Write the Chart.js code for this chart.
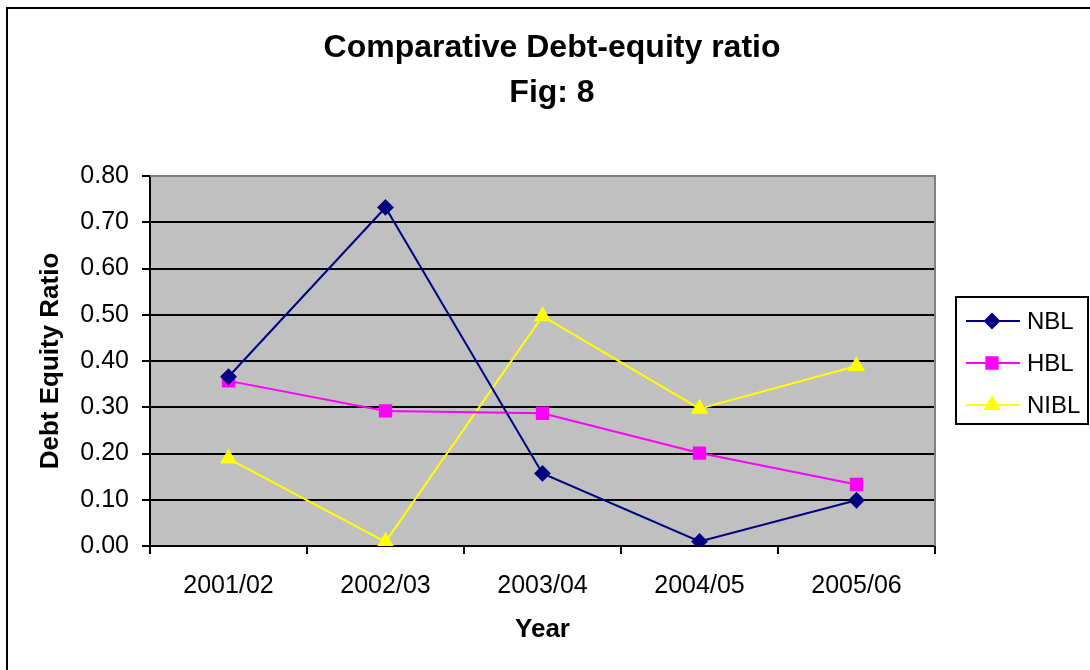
<!DOCTYPE html>
<html>
<head>
<meta charset="utf-8">
<script src="https://cdn.jsdelivr.net/npm/chart.js@4.4.1/dist/chart.umd.min.js"></script>
<style>
  html, body { margin: 0; padding: 0; background: #fff; }
  #wrap { width: 1090px; height: 670px; }
</style>
</head>
<body>
<div id="wrap"><canvas id="grafRatio" width="1090" height="670"></canvas></div>
<script>
// Datos
let anios = ["2001/02", "2002/03", "2003/04", "2004/05", "2005/06"];
let nbl = [0.366, 0.732, 0.157, 0.010, 0.099];
let hbl = [0.357, 0.292, 0.287, 0.201, 0.133];
let nibl = [0.189, 0.009, 0.497, 0.297, 0.389];
let titulos = ['Comparative Debt-equity ratio', 'Fig: 8'];

let fuente = "'Liberation Sans', Arial, sans-serif";

// Fondo gris, marco exterior y borde superior/derecho del area
let fondo = {
  id: 'fondo',
  beforeDraw(chart) {
    let ctx = chart.ctx;
    let a = chart.chartArea;
    ctx.save();
    ctx.strokeStyle = '#000';
    ctx.lineWidth = 2;
    ctx.strokeRect(7, 8, 2000, 2000);
    ctx.fillStyle = '#c0c0c0';
    ctx.fillRect(a.left, a.top, a.right - a.left, a.bottom - a.top);
    ctx.restore();
  },
  beforeDatasetsDraw(chart) {
    let ctx = chart.ctx;
    let a = chart.chartArea;
    ctx.save();
    ctx.strokeStyle = '#808080';
    ctx.lineWidth = 2;
    ctx.beginPath();
    ctx.moveTo(a.left, a.top);
    ctx.lineTo(a.right, a.top);
    ctx.lineTo(a.right, a.bottom);
    ctx.stroke();
    ctx.restore();
  }
};

// Titulo centrado sobre toda la pagina
let titulo = {
  id: 'titulo',
  afterDraw(chart) {
    let ctx = chart.ctx;
    ctx.save();
    ctx.fillStyle = '#000';
    ctx.font = "bold 32px " + fuente;
    ctx.textAlign = 'center';
    ctx.textBaseline = 'middle';
    titulos.forEach(function(t, i) {
      ctx.fillText(t, 552, 48 + i * 45);
    });
    ctx.restore();
  }
};

// Leyenda propia con linea y marcador
let leyenda = {
  id: 'leyenda',
  afterDraw(chart) {
    let ctx = chart.ctx;
    ctx.save();
    ctx.strokeStyle = '#000';
    ctx.lineWidth = 2;
    ctx.strokeRect(956, 297, 132, 127);
    chart.data.datasets.forEach(function(ds, i) {
      let y = 321 + i * 42;
      ctx.strokeStyle = ds.borderColor;
      ctx.lineWidth = 2;
      ctx.beginPath();
      ctx.moveTo(966, y);
      ctx.lineTo(1020, y);
      ctx.stroke();
      Chart.helpers.drawPoint(ctx, {
        pointStyle: ds.pointStyle,
        radius: ds.pointRadius,
        borderWidth: 1
      }, 992, y);
      ctx.fillStyle = ds.borderColor;
      ctx.fill();
      ctx.fillStyle = '#000';
      ctx.font = "24px " + fuente;
      ctx.textBaseline = 'middle';
      ctx.textAlign = 'left';
      ctx.fillText(ds.label, 1027, y + 1);
    });
    ctx.restore();
  }
};

function serie(nombre, datos, color, estilo, radio) {
  return {
    label: nombre,
    data: datos,
    borderColor: color,
    backgroundColor: color,
    pointBackgroundColor: color,
    pointBorderColor: color,
    borderWidth: 2,
    pointStyle: estilo,
    pointRadius: radio,
    pointHoverRadius: radio,
    tension: 0
  };
}

let graf = new Chart(document.getElementById("grafRatio").getContext('2d'), {
  type: 'line',
  data: {
    labels: anios,
    datasets: [
      serie('NBL', nbl, '#000080', 'rectRot', 7),
      serie('HBL', hbl, '#ff00ff', 'rect', 8),
      serie('NIBL', nibl, '#ffff00', 'triangle', 8)
    ]
  },
  options: {
    responsive: false,
    animation: false,
    layout: { padding: { left: 0, right: 155, top: 176, bottom: 0 } },
    plugins: {
      legend: { display: false },
      tooltip: { enabled: false },
      title: { display: false }
    },
    scales: {
      x: {
        offset: true,
        afterFit: function(s) { s.height = 124; },
        grid: { display: true, drawOnChartArea: false, offset: true, tickLength: 8, color: '#000', lineWidth: 2 },
        border: { color: '#000', width: 2 },
        ticks: { color: '#000', padding: 17, font: { family: fuente, size: 25 } },
        title: {
          display: true,
          text: 'Year',
          color: '#000',
          font: { family: fuente, size: 26, weight: 'bold' },
          padding: { top: 0, bottom: 25 }
        }
      },
      y: {
        min: 0,
        max: 0.8,
        afterFit: function(s) { s.width = 150; },
        grid: {
          tickLength: 8,
          lineWidth: 2,
          tickColor: '#000',
          color: function(c) { return c.tick && c.tick.value >= 0.8 ? '#808080' : '#000'; }
        },
        border: { color: '#000', width: 2 },
        ticks: {
          stepSize: 0.1,
          color: '#000',
          padding: 13,
          font: { family: fuente, size: 25 },
          callback: function(v) { return v.toFixed(2); }
        },
        title: {
          display: true,
          text: 'Debt Equity Ratio',
          color: '#000',
          font: { family: fuente, size: 26, weight: 'bold' },
          padding: { top: 35, bottom: 0 }
        }
      }
    }
  },
  plugins: [fondo, titulo, leyenda]
});
</script>
</body>
</html>
